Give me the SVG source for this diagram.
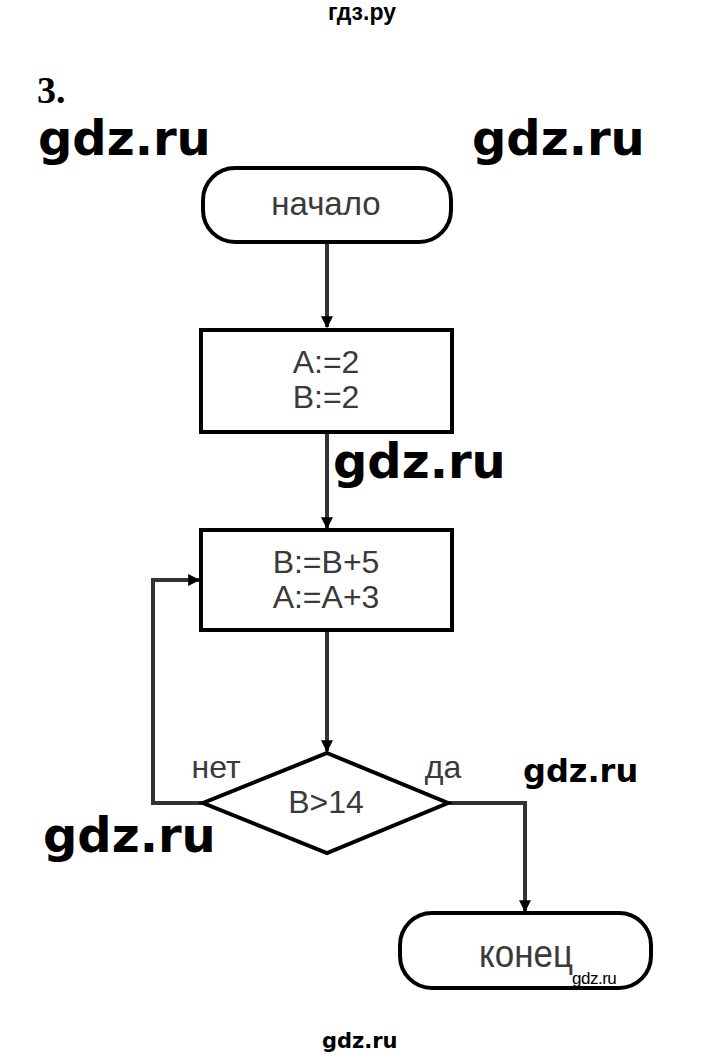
<svg xmlns="http://www.w3.org/2000/svg" width="720" height="1060" viewBox="0 0 720 1060">
<defs>
<style>
.shape{fill:#fff;stroke:#000;stroke-width:4}
.lbl{font-family:"Liberation Sans",Arial,sans-serif;font-size:32px;fill:#3a3a3a;text-anchor:middle}
.conn{fill:none;stroke:#333;stroke-width:4}
.wm{font-family:"DejaVu Sans",Verdana,sans-serif;font-weight:bold;fill:#000}
</style>
<marker id="arr" viewBox="0 0 10 10" refX="9" refY="5" markerWidth="3" markerHeight="3" orient="auto">
<path d="M0,0 L10,5 L0,10 z" fill="#000"/>
</marker>
</defs>
<rect width="720" height="1060" fill="#fff"/>
<text x="362" y="20" text-anchor="middle" style="font-family:'Liberation Sans',Arial,sans-serif;font-weight:bold;font-size:23px" fill="#000">гдз.ру</text>
<text x="37" y="103" style="font-family:'Liberation Serif','Times New Roman',serif;font-weight:bold;font-size:38px" fill="#000">3.</text>
<g id="connectors">
<path class="conn" d="M327,242 V327" marker-end="url(#arr)"/>
<path class="conn" d="M327,432 V528" marker-end="url(#arr)"/>
<path class="conn" d="M327,630 V751" marker-end="url(#arr)"/>
<path class="conn" d="M203,803 H153 V580 H199" marker-end="url(#arr)"/>
<path class="conn" d="M448,803 H525 V911" marker-end="url(#arr)"/>
<text class="lbl" x="216" y="778">нет</text>
<text class="lbl" x="443" y="778">да</text>
</g>
<g id="start">
<rect class="shape" x="203" y="168" width="248" height="74" rx="32" ry="32"/>
<text class="lbl" x="326" y="215" style="font-size:33px">начало</text>
</g>
<g id="init">
<rect class="shape" x="201" y="330" width="251" height="102"/>
<text class="lbl" x="326" y="373">A:=2</text>
<text class="lbl" x="326" y="408">B:=2</text>
</g>
<g id="body">
<rect class="shape" x="201" y="530" width="251" height="100"/>
<text class="lbl" x="326" y="573">B:=B+5</text>
<text class="lbl" x="326" y="608">A:=A+3</text>
</g>
<g id="cond">
<polygon class="shape" points="327,753 448,803 327,853 203,803"/>
<text class="lbl" x="326" y="813">B&gt;14</text>
</g>
<g id="end">
<rect class="shape" x="400" y="913" width="251" height="75" rx="32" ry="32"/>
<text class="lbl" transform="translate(526,967) scale(1,1.12)" x="0" y="0" style="font-size:35px">конец</text>
<text x="572" y="984" style="font-family:'Liberation Sans',Arial,sans-serif;font-size:17px;letter-spacing:-0.5px" fill="#000">gdz.ru</text>
</g>
<text class="wm" x="38" y="155" font-size="48">gdz.ru</text>
<text class="wm" x="472" y="155" font-size="48">gdz.ru</text>
<text class="wm" x="333" y="478" font-size="48">gdz.ru</text>
<text class="wm" x="43" y="852" font-size="48">gdz.ru</text>
<text class="wm" x="523" y="782" font-size="32">gdz.ru</text>
<text class="wm" x="322" y="1048" font-size="21">gdz.ru</text>
</svg>
